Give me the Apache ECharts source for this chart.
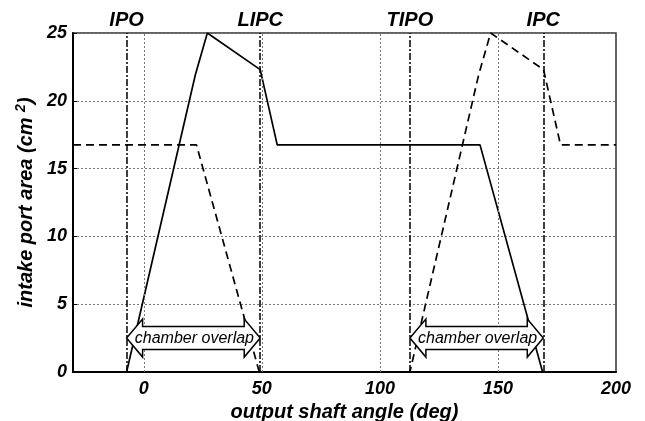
<!DOCTYPE html>
<html>
<head>
<meta charset="utf-8">
<script src="https://cdn.jsdelivr.net/npm/echarts@6/dist/echarts.min.js"></script>
<style>
html,body{margin:0;padding:0;background:#fff;}
#c{width:645px;height:421px;}
</style>
</head>
<body>
<div id="c"></div>
<script>
// ---- data ----
var solidAngle = [-30, -7.3, 21.8, 26.9, 49.3, 56.5, 142.4, 168.9, 200];
var solidArea  = [0, 0, 21.9, 25, 22.3, 16.75, 16.75, 0, 0];
var dashAngle  = [-30, 22.3, 48.9, 112.7, 141.8, 146.9, 169.3, 176.5, 200];
var dashArea   = [16.75, 16.75, 0, 0, 21.9, 25, 22.3, 16.75, 16.75];
var eventNames  = ['IPO', 'LIPC', 'TIPO', 'IPC'];
var eventAngles = [-7.3, 49.3, 112.7, 169.2];
var overlapStart = [-7.3, 112.7];
var overlapEnd   = [49.3, 169.2];
var overlapY     = [2.5, 2.5];
var overlapText  = 'chamber overlap';
var xGridValues  = [0, 50, 100, 150];
var xTickLabels  = [0, 50, 100, 150, 200];
var yTicks       = [0, 5, 10, 15, 20, 25];

var FONT = 'Liberation Sans, Arial, sans-serif';

function pairs(xs, ys) { return xs.map(function (x, i) { return [x, ys[i]]; }); }

var overlapData = overlapStart.map(function (s, i) { return [s, overlapEnd[i], overlapY[i]]; });

var chart = echarts.init(document.getElementById('c'), null, {renderer: 'canvas'});
chart.setOption({
  animation: false,
  backgroundColor: '#fff',
  grid: {left: 73, right: 29, top: 33, bottom: 49, containLabel: false, outerBoundsMode: 'none',
    show: true, borderColor: '#333', borderWidth: 1.5, backgroundColor: 'transparent'},
  xAxis: {
    type: 'value', min: -30, max: 200, interval: 10,
    name: 'output shaft angle (deg)', nameLocation: 'middle', nameGap: 26,
    nameTextStyle: {fontFamily: FONT, fontSize: 20, fontWeight: 'bold', fontStyle: 'italic', color: '#000'},
    axisLine: {show: true, onZero: false, lineStyle: {color: '#000', width: 2}},
    axisTick: {show: false},
    splitLine: {show: false},
    axisLabel: {
      margin: 8, fontFamily: FONT, fontSize: 18, fontWeight: 'bold', fontStyle: 'italic', color: '#000',
      showMinLabel: true, showMaxLabel: true,
      formatter: function (v) { return xTickLabels.indexOf(v) >= 0 ? String(v) : ''; }
    }
  },
  yAxis: {
    type: 'value', min: yTicks[0], max: yTicks[yTicks.length - 1], interval: 5,
    name: 'intake port area (cm {sup|2})', nameLocation: 'middle', nameGap: 33,
    nameTextStyle: {fontFamily: FONT, fontSize: 20, fontWeight: 'bold', fontStyle: 'italic', color: '#000',
      rich: {sup: {fontFamily: FONT, fontSize: 14, fontWeight: 'bold', fontStyle: 'italic', color: '#000', verticalAlign: 'top', padding: [0, 0, 9, 0]}}},
    axisLine: {show: true, onZero: false, lineStyle: {color: '#000', width: 2}},
    axisTick: {show: true, inside: true, length: 4, lineStyle: {color: '#000', width: 1}},
    splitLine: {show: true, lineStyle: {color: '#777', type: [2, 2], width: 1}},
    axisLabel: {margin: 6, fontFamily: FONT, fontSize: 18, fontWeight: 'bold', fontStyle: 'italic', color: '#000'}
  },
  series: [
    {
      type: 'line', data: [], silent: true, z: 1,
      markLine: {
        silent: true, symbol: 'none', animation: false,
        label: {show: false},
        lineStyle: {color: '#777', type: [2, 2], width: 1},
        data: xGridValues.map(function (v) { return {xAxis: v}; })
      }
    },
    {
      type: 'line', data: pairs(dashAngle, dashArea), showSymbol: false, symbol: 'none', z: 3,
      lineStyle: {color: '#000', width: 1.7, type: [8, 5]}
    },
    {
      type: 'line', data: pairs(solidAngle, solidArea), showSymbol: false, symbol: 'none', z: 3,
      lineStyle: {color: '#000', width: 1.7, type: 'solid'},
      markLine: {
        silent: true, symbol: 'none', animation: false,
        lineStyle: {color: '#000', width: 1.5, type: [7, 2, 2, 2]},
        label: {show: true, position: 'end', distance: 3, formatter: '{b}',
          fontFamily: FONT, fontSize: 20, fontWeight: 'bold', fontStyle: 'italic', color: '#000'},
        data: eventAngles.map(function (v, i) { return {xAxis: v, name: eventNames[i]}; })
      }
    },
    {
      type: 'custom', z: 5, silent: true,
      data: overlapData,
      renderItem: function (params, api) {
        var p1 = api.coord([api.value(0), api.value(2)]);
        var p2 = api.coord([api.value(1), api.value(2)]);
        var y = p1[1], x1 = p1[0], x2 = p2[0];
        var hl = 16, hh = 19, bh = 11.5;
        var pts = [
          [x1, y], [x1 + hl, y - hh], [x1 + hl, y - bh], [x2 - hl, y - bh], [x2 - hl, y - hh],
          [x2, y], [x2 - hl, y + hh], [x2 - hl, y + bh], [x1 + hl, y + bh], [x1 + hl, y + hh]
        ];
        return {
          type: 'group',
          children: [
            {type: 'polygon', shape: {points: pts}, style: {fill: '#fff', stroke: '#000', lineWidth: 1.5}},
            {type: 'text', style: {text: overlapText, x: (x1 + x2) / 2 + 1, y: y,
              align: 'center', verticalAlign: 'middle', textAlign: 'center', textVerticalAlign: 'middle',
              fontFamily: FONT, fontSize: 16, fontStyle: 'italic', fontWeight: 'normal', fill: '#000'}}
          ]
        };
      }
    }
  ]
});
</script>
</body>
</html>
